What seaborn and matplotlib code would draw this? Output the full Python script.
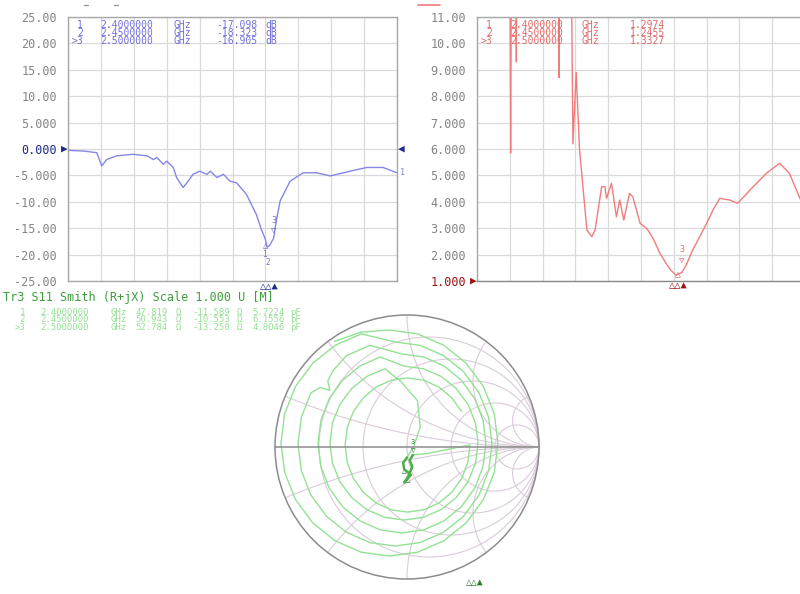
import numpy as np
import matplotlib
matplotlib.use("Agg")
import matplotlib.pyplot as plt
import seaborn as sns
from matplotlib.patches import Circle
from matplotlib.lines import Line2D

# ---- trace 1: S11 log mag (dB) ----
freq_db = [0.00, 0.20, 0.35, 0.41, 0.47, 0.59, 0.79, 0.96, 1.04, 1.08, 1.16, 1.20,
           1.28, 1.32, 1.40, 1.46, 1.52, 1.60, 1.69, 1.73, 1.81, 1.89, 1.97, 2.05,
           2.17, 2.29, 2.35, 2.40, 2.42, 2.45, 2.50, 2.53, 2.58, 2.70, 2.86, 3.02,
           3.19, 3.43, 3.63, 3.83, 4.00]
s11_db = [-0.25, -0.4, -0.7, -3.2, -2.0, -1.3, -1.0, -1.3, -2.0, -1.6, -2.9, -2.3,
          -3.5, -5.4, -7.3, -6.1, -4.8, -4.2, -4.8, -4.2, -5.4, -4.8, -6.1, -6.4,
          -8.6, -12.4, -15.2, -17.1, -18.6, -18.3, -16.9, -13.8, -9.8, -6.1, -4.5, -4.5,
          -5.1, -4.2, -3.5, -3.5, -4.5]

# ---- trace 2: SWR ----
freq_swr = [0.00, 0.20, 0.38, 0.41, 0.44, 0.46, 0.48, 0.50, 0.98, 1.00, 1.02, 1.10,
            1.17, 1.21, 1.25, 1.34, 1.40, 1.44, 1.52, 1.56, 1.58, 1.64, 1.70, 1.74,
            1.79, 1.86, 1.90, 1.99, 2.07, 2.15, 2.23, 2.30, 2.36, 2.40, 2.43, 2.45,
            2.50, 2.55, 2.63, 2.72, 2.80, 2.88, 2.96, 3.08, 3.18, 3.33, 3.53, 3.69,
            3.81, 3.93, 4.00]
swr = [40, 35, 30, 5.85, 30, 30, 9.3, 30, 30, 8.7, 30, 30,
       6.2, 8.9, 6.0, 2.93, 2.68, 2.93, 4.57, 4.57, 4.13, 4.70, 3.43, 4.07,
       3.31, 4.32, 4.19, 3.18, 2.99, 2.6, 2.05, 1.70, 1.42, 1.30, 1.22, 1.25,
       1.33, 1.60, 2.17, 2.70, 3.18, 3.70, 4.13, 4.07, 3.94, 4.45, 5.08, 5.46,
       5.08, 4.19, 3.70]

# ---- trace 3: Smith chart, reflection coefficient ----
gamma_re = [-0.55, -0.35,
            # loop 1
            -0.133, 0.080, 0.278, 0.448, 0.579, 0.661, 0.689, 0.661, 0.579, 0.448, 0.278, 0.080,
            -0.133, -0.346, -0.544, -0.714, -0.845, -0.927, -0.955, -0.927, -0.845, -0.714, -0.544, -0.346,
            # loop 2 (with the wiggle on the upper left)
            -0.091, 0.099, 0.277, 0.429, 0.546, 0.619, 0.644, 0.619, 0.546, 0.429, 0.277, 0.099,
            -0.091, -0.281, -0.459, -0.611, -0.728, -0.801, -0.826, -0.801, -0.728, -0.66, -0.585, -0.60,
            -0.56, -0.459, -0.281,
            # loop 3
            -0.038, 0.127, 0.280, 0.412, 0.513, 0.576, 0.598, 0.576, 0.513, 0.412, 0.280, 0.127,
            -0.038, -0.203, -0.356, -0.488, -0.589, -0.652, -0.674, -0.652, -0.589, -0.488, -0.356, -0.203,
            # loop 4
            -0.023, 0.122, 0.258, 0.374, 0.463, 0.519, 0.538, 0.519, 0.463, 0.374, 0.258, 0.122,
            -0.023, -0.168, -0.304, -0.420, -0.509, -0.565, -0.584, -0.565, -0.509, -0.420, -0.304, -0.168,
            # into the match
            -0.05, 0.08, 0.10, 0.05, 0.00,
            -0.03, -0.02, 0.03, -0.02, 0.01, 0.04, 0.02, 0.045,
            # back out
            0.15, 0.30,
            0.477, 0.461, 0.414, 0.338, 0.241, 0.126, 0.004, -0.119, -0.233, -0.330, -0.406, -0.453,
            -0.469, -0.453, -0.406, -0.330, -0.233, -0.119, 0.004, 0.126, 0.241, 0.338, 0.414]
gamma_im = [0.80, 0.87,
            0.886, 0.857, 0.771, 0.635, 0.458, 0.252, 0.030, -0.192, -0.398, -0.575, -0.711, -0.797,
            -0.826, -0.797, -0.711, -0.575, -0.398, -0.192, 0.030, 0.252, 0.458, 0.635, 0.771, 0.857,
            0.796, 0.770, 0.692, 0.570, 0.410, 0.223, 0.023, -0.177, -0.364, -0.524, -0.646, -0.724,
            -0.750, -0.724, -0.646, -0.524, -0.364, -0.177, 0.023, 0.223, 0.410, 0.45, 0.43, 0.50,
            0.58, 0.692, 0.770,
            0.705, 0.682, 0.614, 0.506, 0.366, 0.203, 0.027, -0.149, -0.312, -0.452, -0.560, -0.628,
            -0.651, -0.628, -0.560, -0.452, -0.312, -0.149, 0.027, 0.203, 0.366, 0.506, 0.614, 0.682,
            0.613, 0.593, 0.535, 0.442, 0.322, 0.181, 0.030, -0.121, -0.262, -0.382, -0.475, -0.533,
            -0.553, -0.533, -0.475, -0.382, -0.262, -0.121, 0.030, 0.181, 0.322, 0.442, 0.535, 0.593,
            0.50, 0.35, 0.15, 0.00, -0.08,
            -0.12, -0.17, -0.21, -0.27, -0.22, -0.15, -0.10, -0.06,
            -0.05, -0.02,
            0.015, -0.116, -0.239, -0.344, -0.425, -0.476, -0.493, -0.476, -0.425, -0.344, -0.239, -0.116,
            0.015, 0.146, 0.269, 0.374, 0.455, 0.506, 0.523, 0.506, 0.455, 0.374, 0.269]
knot_start, knot_end = 105, 114   # slice of the trace around the markers

# ---- markers ----
marker_ids = ["1", "2", ">3"]
marker_f = [2.40, 2.45, 2.50]
marker_freq = ["2.4000000", "2.4500000", "2.5000000"]
marker_db = ["-17.098", "-18.323", "-16.905"]
marker_swr = ["1.2974", "1.2455", "1.3327"]
marker_r = ["47.819", "50.943", "52.784"]
marker_x = ["-11.589", "-10.553", "-13.250"]
marker_c = ["5.7224", "6.1556", "4.8046"]
smith_mk_re = [-0.02, 0.01, 0.045]
smith_mk_im = [-0.17, -0.22, -0.06]

db_ticks = [25, 20, 15, 10, 5, 0, -5, -10, -15, -20, -25]
db_labels = ["25.00", "20.00", "15.00", "10.00", "5.000", "0.000",
             "-5.000", "-10.00", "-15.00", "-20.00", "-25.00"]
swr_ticks = [11, 10, 9, 8, 7, 6, 5, 4, 3, 2, 1]
swr_labels = ["11.00", "10.00", "9.000", "8.000", "7.000", "6.000",
              "5.000", "4.000", "3.000", "2.000", "1.000"]

BLUE = "#8686e6"
BLUE_TXT = "#7070d8"
NAVY = "#1f2a8a"
RED = "#f07c7c"
RED_TXT = "#e06a6a"
DARKRED = "#9a1414"
GREEN = "#93e293"
GREEN_TXT = "#96e096"
GREEN_HEAD = "#3f9f3f"
DARKGREEN = "#2a7f2a"
GRID = "#dadada"
SPINE = "#a8a8a8"
TICK = "#858585"

sns.set_style("white")
plt.rcParams['font.family'] = ['DejaVu Sans Mono', 'DejaVu Sans']

W, H = 800, 594
fig = plt.figure(figsize=(8, 5.94), dpi=100)


def px(x, y):
    return x / W, 1 - y / H


def rect_axes(left, right, top, bottom):
    return fig.add_axes([left / W, 1 - bottom / H, (right - left) / W, (bottom - top) / H])


def style_rect(ax, ticks, labels, ref_idx, ref_color):
    ax.set_xlim(0, 4)
    ax.set_xticks(np.linspace(0, 4, 11))
    ax.set_xticklabels([])
    ax.set_yticks(ticks)
    ax.set_yticklabels(labels)
    ax.tick_params(axis='both', length=0, pad=8, labelsize=8.5, labelcolor=TICK)
    ax.grid(True, color=GRID, lw=0.9)
    for s in ax.spines.values():
        s.set_color(SPINE)
        s.set_linewidth(1.0)
    ax.get_yticklabels()[ref_idx].set_color(ref_color)
    ax.set_xlabel("")
    ax.set_ylabel("")


def cell(x, y, s, color, size, ha):
    fig.text(*px(x, y), s, ha=ha, va='center', fontsize=size, color=color)


# ---------------- S11 dB panel ----------------
ax1 = rect_axes(68, 397, 17, 281)
sns.lineplot(x=freq_db, y=s11_db, sort=False, estimator=None, color=BLUE, lw=1.0, ax=ax1)
ax1.set_ylim(-25, 25)
style_rect(ax1, db_ticks, db_labels, 5, NAVY)
ax1.annotate("▶", xy=(0, 0), xycoords=('axes fraction', 'data'), xytext=(0, 0),
             textcoords='offset points', ha='right', va='center', color=NAVY, fontsize=8,
             annotation_clip=False)
ax1.annotate("◀", xy=(1, 0), xycoords=('axes fraction', 'data'), xytext=(1, 0),
             textcoords='offset points', ha='left', va='center', color=NAVY, fontsize=8,
             annotation_clip=False)
ax1.annotate("1", xy=(freq_db[-1], s11_db[-1]), xytext=(2, 0), textcoords='offset points',
             ha='left', va='center', color=BLUE, fontsize=6, annotation_clip=False)
ax1.annotate("▽", xy=(marker_f[2], float(marker_db[2])), xytext=(0, 6),
             textcoords='offset points', ha='center', va='center', color=BLUE_TXT, fontsize=6.5)
ax1.annotate("3", xy=(marker_f[2], float(marker_db[2])), xytext=(0, 13),
             textcoords='offset points', ha='center', va='center', color=BLUE_TXT, fontsize=6)
ax1.annotate("△", xy=(marker_f[0], float(marker_db[0])), xytext=(0, -5),
             textcoords='offset points', ha='center', va='center', color=BLUE_TXT, fontsize=6.5)
ax1.annotate("1", xy=(marker_f[0], float(marker_db[0])), xytext=(-1, -11),
             textcoords='offset points', ha='center', va='center', color=BLUE_TXT, fontsize=5.5)
ax1.annotate("2", xy=(marker_f[1], float(marker_db[1])), xytext=(-1, -12),
             textcoords='offset points', ha='center', va='center', color=BLUE_TXT, fontsize=5.5)
ax1.annotate("△△▲", xy=(marker_f[1], 0), xycoords=('data', 'axes fraction'),
             xytext=(0, -4), textcoords='offset points', ha='center', va='center',
             color=NAVY, fontsize=7.5, annotation_clip=False)

# ---------------- SWR panel ----------------
ax2 = rect_axes(477, 805, 17, 281)
sns.lineplot(x=freq_swr, y=swr, sort=False, estimator=None, color=RED, lw=1.0, ax=ax2)
ax2.set_ylim(1, 11)
style_rect(ax2, swr_ticks, swr_labels, 10, DARKRED)
ax2.spines['bottom'].set_color("#888888")
ax2.annotate("▶", xy=(0, 1), xycoords=('axes fraction', 'data'), xytext=(0, 0),
             textcoords='offset points', ha='right', va='center', color=DARKRED, fontsize=8,
             annotation_clip=False)
ax2.annotate("▽", xy=(marker_f[2], float(marker_swr[2])), xytext=(0, 9),
             textcoords='offset points', ha='center', va='center', color=RED_TXT, fontsize=6.5)
ax2.annotate("3", xy=(marker_f[2], float(marker_swr[2])), xytext=(0, 16),
             textcoords='offset points', ha='center', va='center', color=RED_TXT, fontsize=6)
ax2.annotate("△", xy=(marker_f[1], float(marker_swr[1])), xytext=(0, 0),
             textcoords='offset points', ha='center', va='center', color=RED_TXT, fontsize=7)
ax2.annotate("△△▲", xy=(marker_f[1], 0), xycoords=('data', 'axes fraction'),
             xytext=(0, -3), textcoords='offset points', ha='center', va='center',
             color=DARKRED, fontsize=7.5, annotation_clip=False)

# ---------------- marker readouts ----------------
for i in range(3):
    y = 25 + 8 * i
    cell(83, y, marker_ids[i], BLUE_TXT, 7, 'right')
    cell(100, y, marker_freq[i], BLUE_TXT, 7, 'left')
    cell(174, y, "GHz", BLUE_TXT, 7, 'left')
    cell(257, y, marker_db[i], BLUE_TXT, 7, 'right')
    cell(265, y, "dB", BLUE_TXT, 7, 'left')

    cell(492, y, marker_ids[i], RED_TXT, 7, 'right')
    cell(510, y, marker_freq[i], RED_TXT, 7, 'left')
    cell(582, y, "GHz", RED_TXT, 7, 'left')
    cell(665, y, marker_swr[i], RED_TXT, 7, 'right')

    yg = 312 + 7.5 * i
    cell(25, yg, marker_ids[i], GREEN_TXT, 6.5, 'right')
    cell(40, yg, marker_freq[i], GREEN_TXT, 6.5, 'left')
    cell(110, yg, "GHz", GREEN_TXT, 6.5, 'left')
    cell(168, yg, marker_r[i], GREEN_TXT, 6.5, 'right')
    cell(176, yg, "Ω", GREEN_TXT, 6.5, 'left')
    cell(230, yg, marker_x[i], GREEN_TXT, 6.5, 'right')
    cell(237, yg, "Ω", GREEN_TXT, 6.5, 'left')
    cell(285, yg, marker_c[i], GREEN_TXT, 6.5, 'right')
    cell(290, yg, "pF", GREEN_TXT, 6.5, 'left')

fig.text(*px(3, 297), "Tr3 S11 Smith (R+jX) Scale 1.000 U [M]", ha='left', va='center',
         fontsize=8.5, color=GREEN_HEAD)

# small cut-off bits at the very top
fig.add_artist(Line2D([418 / W, 440 / W], [1 - 5 / H] * 2, color=RED, lw=1.2))
fig.add_artist(Line2D([84 / W, 88 / W], [1 - 5 / H] * 2, color="#9a9a9a", lw=1.0))
fig.add_artist(Line2D([114 / W, 118 / W], [1 - 5 / H] * 2, color="#9a9a9a", lw=1.0))

# ---------------- Smith chart ----------------
R = 132
ax3 = fig.add_axes([(407 - 1.05 * R) / W, (H - 447 - 1.05 * R) / H, 2.1 * R / W, 2.1 * R / H])
ax3.set_xlim(-1.05, 1.05)
ax3.set_ylim(-1.05, 1.05)
ax3.set_aspect('equal')
ax3.axis('off')

unit = Circle((0, 0), 1, fill=False, ec="#8c8c8c", lw=1.1, zorder=3)
ax3.add_patch(unit)
clip = Circle((0, 0), 1, transform=ax3.transData)
grid_kw = dict(fill=False, ec="#dacbda", lw=0.8, zorder=1)
for r in [0.2, 0.5, 1, 2, 5]:
    ax3.add_patch(Circle((r / (1 + r), 0), 1 / (1 + r), **grid_kw))
for x in [0.2, 0.5, 1, 2, 5]:
    for sgn in (1, -1):
        c = Circle((1, sgn / x), 1 / x, **grid_kw)
        ax3.add_patch(c)
        c.set_clip_path(clip)
ax3.plot([-1, 1], [0, 0], color="#8c8c8c", lw=1.1, zorder=3)

sns.lineplot(x=gamma_re, y=gamma_im, sort=False, estimator=None, color=GREEN, lw=1.0, ax=ax3)
ax3.lines[-1].set_solid_joinstyle('round')
ax3.plot(gamma_re[knot_start:knot_end], gamma_im[knot_start:knot_end], color="#4caf4c",
         lw=1.8, zorder=4)
ax3.annotate("▽", xy=(smith_mk_re[2], smith_mk_im[2]), xytext=(0, 3),
             textcoords='offset points', ha='center', va='center', color=DARKGREEN, fontsize=5.5)
ax3.annotate("3", xy=(smith_mk_re[2], smith_mk_im[2]), xytext=(0, 9),
             textcoords='offset points', ha='center', va='center', color=DARKGREEN, fontsize=5)
ax3.annotate("△", xy=(smith_mk_re[0], smith_mk_im[0]), xytext=(0, 0),
             textcoords='offset points', ha='center', va='center', color=DARKGREEN, fontsize=5.5)
ax3.annotate("△", xy=(smith_mk_re[1], smith_mk_im[1]), xytext=(0, -2),
             textcoords='offset points', ha='center', va='center', color=DARKGREEN, fontsize=5.5)
ax3.text(0.745, 0.012, "△△▲", transform=ax3.transAxes, ha='center', va='center',
         color=DARKGREEN, fontsize=7)

fig.savefig("out.png", dpi=100)
